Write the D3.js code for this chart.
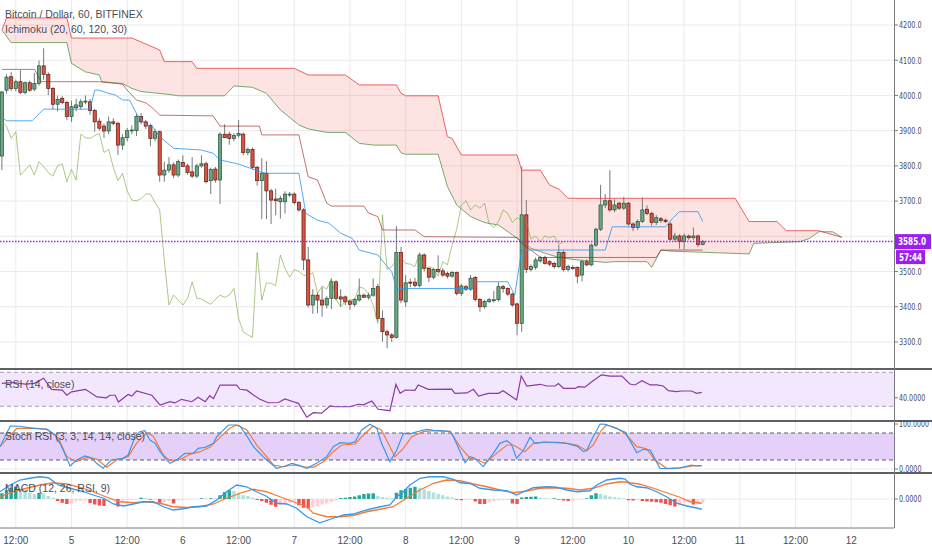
<!DOCTYPE html>
<html>
<head>
<meta charset="utf-8">
<script src="https://cdnjs.cloudflare.com/ajax/libs/d3/7.8.5/d3.min.js"></script>
<style>
    html, body { margin: 0; padding: 0; background: #fff; }
    svg { display: block; font-family: "Liberation Sans", Arial, sans-serif; }
    .scale-text { font-family: "Liberation Sans Narrow", "DejaVu Sans Condensed", "Liberation Sans", sans-serif; }
</style>
</head>
<body>
<svg id="chart" width="932" height="550"></svg>
<script>
/**
 * BTC/USD hourly candles with Ichimoku, RSI, Stoch RSI and MACD panes
 */

// first candle is 4 Dec, 09:00 - every value below is one hourly bar after that
var firstHour = 9;

var opens = [3828,
    4015, 4053, 4020, 4039, 4008, 4036, 4018, 4034, 4084, 4060,
    4020, 3975, 3992, 3980, 3940, 3965, 3968, 3982, 3982, 3957,
    3927, 3913, 3899, 3925, 3921, 3859, 3880, 3900, 3900, 3940,
    3925, 3915, 3878, 3897, 3774, 3788, 3803, 3774, 3810, 3800,
    3783, 3771, 3800, 3806, 3758, 3791, 3760, 3890, 3890, 3878,
    3887, 3890, 3838, 3847, 3796, 3758, 3779, 3729, 3706, 3698,
    3698, 3720, 3720, 3696, 3675, 3533, 3405, 3433, 3419, 3405,
    3424, 3471, 3428, 3428, 3416, 3407, 3419, 3433, 3427, 3433,
    3457, 3367, 3329, 3320, 3313, 3554, 3414, 3470, 3470, 3460,
    3547, 3509, 3484, 3506, 3502, 3495, 3487, 3497, 3438, 3457,
    3450, 3483, 3421, 3400, 3415, 3420, 3420, 3457, 3452, 3436,
    3408, 3353, 3661, 3506, 3512, 3530, 3540, 3528, 3523, 3514,
    3554, 3506, 3512, 3512, 3490, 3528, 3519, 3575, 3620, 3689,
    3701, 3675, 3694, 3680, 3694, 3635, 3625, 3642, 3677, 3665,
    3639, 3650, 3646, 3635, 3592, 3601, 3585, 3601, 3596, 3601,
    3577];
var highs = [4012,
    4060, 4067, 4045, 4072, 4040, 4042, 4064, 4099, 4134, 4066,
    4024, 4000, 3998, 3985, 3985, 3990, 3990, 4000, 3990, 3962,
    3935, 3920, 3940, 3935, 3925, 3890, 3908, 3915, 3948, 3950,
    3930, 3920, 3905, 3900, 3812, 3825, 3810, 3818, 3830, 3806,
    3825, 3806, 3830, 3812, 3795, 3797, 3895, 3918, 3897, 3893,
    3930, 3895, 3852, 3852, 3800, 3822, 3814, 3735, 3735, 3715,
    3728, 3726, 3725, 3700, 3680, 3570, 3450, 3440, 3455, 3430,
    3478, 3475, 3450, 3432, 3420, 3425, 3480, 3438, 3440, 3480,
    3465, 3390, 3335, 3325, 3629, 3570, 3490, 3480, 3482, 3552,
    3552, 3512, 3510, 3546, 3510, 3500, 3502, 3500, 3465, 3462,
    3490, 3487, 3425, 3420, 3425, 3445, 3470, 3462, 3455, 3440,
    3412, 3798, 3703, 3520, 3540, 3545, 3545, 3532, 3528, 3575,
    3560, 3520, 3518, 3515, 3532, 3535, 3580, 3625, 3746, 3720,
    3788, 3705, 3698, 3712, 3698, 3640, 3648, 3710, 3688, 3670,
    3660, 3655, 3650, 3640, 3610, 3606, 3608, 3605, 3625, 3605,
    3590];
var lows = [3788,
    4005, 4013, 4012, 4004, 4003, 4010, 4012, 4028, 4044, 4001,
    3961, 3955, 3975, 3930, 3925, 3955, 3960, 3975, 3945, 3897,
    3900, 3879, 3890, 3915, 3831, 3845, 3870, 3890, 3885, 3918,
    3905, 3856, 3870, 3755, 3755, 3780, 3765, 3768, 3800, 3775,
    3765, 3765, 3795, 3750, 3720, 3752, 3692, 3880, 3860, 3870,
    3880, 3830, 3830, 3790, 3744, 3649, 3649, 3635, 3660, 3650,
    3665, 3712, 3690, 3670, 3504, 3398, 3380, 3382, 3372, 3395,
    3393, 3418, 3400, 3405, 3391, 3400, 3415, 3425, 3420, 3428,
    3360, 3301, 3282, 3300, 3310, 3410, 3400, 3455, 3455, 3455,
    3500, 3470, 3478, 3495, 3485, 3480, 3482, 3432, 3430, 3445,
    3445, 3415, 3386, 3395, 3410, 3412, 3415, 3440, 3430, 3400,
    3320, 3329, 3496, 3500, 3505, 3525, 3520, 3515, 3508, 3510,
    3500, 3500, 3505, 3467, 3472, 3515, 3515, 3570, 3615, 3680,
    3670, 3668, 3675, 3675, 3630, 3615, 3618, 3638, 3660, 3630,
    3632, 3638, 3638, 3588, 3585, 3565, 3563, 3590, 3590, 3570,
    3574];
var closes = [4010,
    4052, 4020, 4039, 4008, 4036, 4015, 4034, 4084, 4060, 4020,
    3975, 3989, 3980, 3940, 3968, 3973, 3982, 3984, 3957, 3925,
    3907, 3899, 3925, 3921, 3859, 3880, 3900, 3902, 3940, 3925,
    3913, 3878, 3897, 3774, 3788, 3803, 3774, 3812, 3798, 3781,
    3771, 3800, 3806, 3755, 3790, 3760, 3890, 3880, 3878, 3886,
    3892, 3838, 3847, 3796, 3758, 3779, 3729, 3703, 3701, 3707,
    3720, 3720, 3696, 3675, 3533, 3405, 3433, 3419, 3405, 3424,
    3471, 3424, 3422, 3414, 3407, 3421, 3433, 3427, 3433, 3452,
    3367, 3329, 3320, 3313, 3554, 3419, 3468, 3467, 3460, 3547,
    3509, 3484, 3506, 3500, 3490, 3487, 3497, 3438, 3459, 3450,
    3481, 3421, 3400, 3415, 3420, 3420, 3457, 3452, 3436, 3405,
    3353, 3661, 3506, 3514, 3533, 3540, 3523, 3521, 3514, 3554,
    3506, 3514, 3509, 3487, 3528, 3519, 3575, 3620, 3689, 3701,
    3675, 3689, 3680, 3694, 3635, 3625, 3642, 3675, 3665, 3639,
    3653, 3645, 3642, 3592, 3601, 3585, 3601, 3596, 3601, 3577,
    3585];

// Ichimoku lines as [hour, price] turning points (cloud already shifted 30 bars forward)
var tenkan = [[9,3938],[10,3928],[15.5,3928],[18,3961],[28,3961],[29,4015],[30,4015],[32,4006],[33.5,4001],
    [35,3987],[36.5,3987],[38,3949],[40,3916],[41.5,3911],[43,3883],[46,3850],[52,3845],[54.5,3836],[56,3817],
    [60,3805],[64.5,3784],[66,3779],[73,3779],[74.5,3665],[77,3646],[79.5,3637],[82,3609],[84.5,3594],[86,3561],
    [90,3547],[92,3514],[93,3500],[94,3452],[110,3452],[111,3471],[118,3471],[119.5,3433],[121,3561],[139,3561],
    [140.5,3627],[152,3627],[153.5,3651],[155,3670],[159,3670],[160,3642]];
var kijun = [[9,4074],[16,4074],[17.5,4039],[30,4039],[35,4032],[36,4015],[38,3987],[40,3979],[41.5,3964],
    [43,3944],[54.5,3942],[56,3913],[64.5,3913],[65,3888],[73,3888],[75,3769],[77,3760],[79,3694],[80,3686],
    [87,3686],[88,3666],[90,3656],[91,3618],[98,3618],[100,3599],[120,3597],[121,3580],[123,3561],[125,3540],
    [150,3540],[151,3561],[160,3561]];
var spanA = [[9,4186],[11,4150],[23,4150],[24,4091],[27,4067],[30,4058],[30.5,4039],[35,4034],[37,4020],
    [39,4011],[45,4003],[47,3999],[57,3999],[59,4027],[63,4023],[66,4006],[69,3959],[73,3916],[75,3905],
    [79,3895],[83,3895],[84,3885],[86,3864],[89,3859],[94,3859],[95,3837],[96,3833],[103,3833],[105,3741],
    [107,3689],[110,3656],[113,3639],[116,3632],[119,3604],[121,3585],[123,3566],[126,3552],[129,3540],
    [133,3533],[139,3526],[141,3528],[148,3528],[149,3512],[151,3561],[153,3558],[170,3550],[171,3580],
    [181,3585],[183,3594],[185,3613],[188,3613],[190,3597]];
var spanB = [[9,4186],[10,4220],[23,4220],[24,4163],[37,4163],[43,4129],[44,4096],[50,4096],[51,4077],
    [72,4077],[75,4058],[83,4058],[84,4049],[86,4030],[94,4030],[95,4006],[96,3999],[103,3999],[105,3883],
    [106,3878],[108,3831],[120,3831],[121,3788],[125,3788],[127,3746],[129,3734],[131,3708],[167,3708],
    [170,3642],[176,3642],[178,3616],[185,3616],[190,3597]];
var laggingShift = 30;

// RSI (14, close)
var rsi = [[9,57],[11.5,58],[14,56],[16,57],[18,63],[19.7,50],[22,49],[23,43],[24,47],[27,50],[29.5,41],
    [31.5,40],[32.3,43],[33.4,43],[34.1,35],[36.2,44],[37,42],[38,48],[41.3,43],[43.1,31.5],[45.2,35.4],
    [46.3,34],[47.7,38.2],[49.9,35.4],[51.3,40.6],[52.8,35.4],[53.8,42.5],[54.6,39],[56,55],[59.6,55],
    [60.3,50],[61.8,49],[63.2,43.3],[64.6,38.2],[66.4,34.2],[68.6,34.5],[70,38.6],[71.8,35.4],[72.9,33.5],
    [73.6,27],[74.7,17.1],[76.1,22.5],[77.9,22],[79.7,30.4],[80.8,29.5],[84,29.5],[85.8,32.4],[86.9,31.8],
    [88.7,36.2],[90.1,26.5],[92.6,24.8],[93.9,55.9],[94.8,45.3],[95.9,49.2],[98,48.8],[98.7,55.1],[100.9,50],
    [105.9,50.2],[106.6,45.3],[109.2,45.7],[110.6,50],[111.7,42.1],[113.8,45.3],[116,45.3],[117,48.4],
    [119.9,37.4],[120.9,65.6],[122.1,53.9],[125,55.9],[126.4,53.9],[128.2,53.9],[128.9,56.7],[130,51.2],
    [132.5,51],[133.2,53.1],[134.6,52.5],[136.1,58.9],[138.2,67],[140,65.6],[142.6,65.6],[144.3,56.2],
    [145.4,55.1],[146.9,60.1],[148.7,55.1],[150.1,55.3],[151.5,53.9],[152.6,48.4],[154.3,47.2],[155.5,48],
    [157.6,48],[158.7,45.3],[159.8,46.4]];

// Stoch RSI (3, 3, 14, 14, close)
var stochK = [[8.6,49.6],[10.8,95.6],[12.9,95],[15.8,90.4],[18.7,88],[20.5,75.6],[21.9,49.6],[23.7,6.7],
    [25.1,20],[26.9,28.9],[28.3,25],[29.4,12.6],[30.8,1.5],[32.6,20],[35.1,23.7],[36.2,31],[37.7,71.8],
    [38.7,82.9],[39.8,85.2],[40.9,64.4],[42,57.1],[43.1,38.5],[44.2,23.7],[45.2,12.6],[46.7,20],[48.4,34.8],
    [50.2,34.8],[51.3,46],[52.8,48],[54.6,57],[55.3,71.8],[56.4,83],[57.8,97.8],[59.2,97.8],[60.3,95.6],
    [62.1,68.1],[63.2,49.6],[65.3,27.4],[66.1,20],[68.2,1.5],[70,6.7],[71.5,12.6],[73.2,7.5],[74.7,1.5],
    [76.8,12.6],[79,27.4],[80.4,49.6],[81.9,58.5],[84,57],[85.1,60.7],[86.5,86.7],[88.3,99.3],[89.8,90],
    [90.8,57],[92.6,16.3],[94.1,42.2],[95.5,79.3],[96.9,78],[98.4,82.9],[100.5,88.1],[102,86],[105.6,84],
    [106.3,71.8],[108.8,14],[109.9,27.4],[110.9,24],[112.7,5.2],[114.9,34.8],[116.3,57],[117.8,62.9],
    [118.8,55],[119.9,23.7],[121.4,42],[122.8,70.4],[123.9,57],[125.7,60],[129.3,58],[130.7,57],[132.9,51],
    [134.3,38.5],[135,41],[136.4,71.8],[137.9,100],[139,99],[140.4,94],[142.2,86.7],[143.3,82],[145.8,36.3],
    [147.2,43.7],[148.7,42],[150.8,1.5],[153,0.5],[155.1,2.5],[157.6,8.9],[158.7,6.7],[159.8,7.5]];
var stochD = [[8.6,49.6],[12.2,90.4],[15.8,91],[18.7,89],[21.2,68],[23,27.4],[25.1,16.3],[27.3,25.9],
    [29.4,22],[31.6,3.7],[33.7,20],[36.2,27.4],[38,57],[40.2,80.7],[41.6,73],[43.8,31.1],[45.2,18.5],
    [47.4,21],[49.5,32.6],[51.7,38.5],[53.8,48.1],[56,70.4],[58.1,90.4],[59.6,97.8],[61.8,86.7],[63.9,53.3],
    [66.1,27],[67.5,8.9],[69.7,5],[71.8,8.9],[73.9,5],[76.1,3.7],[78.3,16.3],[80.4,38.5],[82.2,53.3],
    [85.1,55.6],[86.9,75.6],[89,95.6],[90.8,86],[93.7,27.4],[95.5,46],[97.3,71.8],[99.8,82.9],[102,85.2],
    [105.6,83],[107.7,49.6],[109.9,23.7],[111.3,21],[113.1,12.6],[115.6,34.8],[117.8,53.3],[119.2,53.3],
    [121.7,38.5],[123.5,57],[125.7,59],[129.3,59],[132.9,53.3],[135,40.7],[136.4,53.3],[138.2,86.7],
    [139.3,97.8],[141.5,91],[143.6,75.6],[145.8,49.6],[147.9,45],[149.7,20],[152.2,1.5],[155.1,2.5],
    [158,6.7],[159.8,7.5]];

// MACD (12, 26, RSI, 9)
var macd = [[8.6,2.9],[10.8,5.6],[12.9,7.6],[15,8.3],[17.2,8.9],[19,8.5],[21.2,5.6],[23.7,4.3],[26.6,2.9],
    [28.7,1.6],[30.9,0.3],[33,-2],[35.2,-2.8],[37.3,-2],[39.5,-1.1],[41.6,-1.1],[43.8,-3.1],[45.9,-4.4],
    [48.1,-3.9],[50.3,-3.1],[53.1,-2.8],[55.3,-0.4],[57.4,2.9],[59.6,5.6],[61.7,4.9],[63.9,2.9],[66,1.1],
    [68.2,-1.7],[70.4,-2],[72.5,-3.7],[74.7,-7.1],[77.5,-9.5],[80.4,-7.7],[82.6,-6.4],[84.7,-6],[87.6,-4.4],
    [90.5,-3.1],[92.6,-2.4],[94.1,0.9],[95.5,2.9],[96.9,5.6],[99.1,8.3],[101.2,8.9],[104.1,8.9],[106.3,7.9],
    [107.7,6.5],[109.9,6.2],[112,4.3],[114.9,3.6],[117.8,3.3],[119.9,1.6],[121.4,2.9],[123.5,4.5],[126.4,4.9],
    [128.5,4.7],[130.7,3.6],[132.9,2.9],[135.7,3.3],[137.2,5.6],[139.3,7.6],[142.2,8.3],[143.3,8],[144.3,6],
    [145.8,4.9],[147.9,4.5],[150.1,2.9],[152.2,0.9],[154.4,-1.7],[156.6,-2.8],[158.7,-3.6],[159.8,-4.1]];
var signal = [[8.6,0.9],[11.5,2.9],[14.3,4.3],[17.2,5.6],[20.1,6.5],[23,6],[25.8,4.7],[28.7,2.9],[31.6,0.7],
    [34.5,-1.1],[37.3,-1.5],[40.2,-1.1],[43.1,-1.7],[45.9,-3.1],[48.8,-3.4],[51.7,-3.1],[54.6,-2],[57.4,0.3],
    [60.3,2.3],[63.2,3.9],[66,2.9],[68.9,0.9],[71.8,-1.1],[74.7,-3.1],[76.1,-5.7],[79,-7.1],[81.9,-7.1],
    [84.7,-6.6],[87.6,-5.1],[90.5,-4.1],[93.3,-3.1],[96.2,0.3],[99.1,3.6],[102,6.3],[104.8,7.6],[107.7,7.3],
    [110.6,6],[113.5,4.9],[116.3,3.6],[119.2,2.5],[122.1,3.2],[124.9,4.3],[127.8,4.5],[130.7,4.3],[133.6,3.6],
    [136.4,4.3],[139.3,6],[142.2,6.9],[143.6,6.7],[146.5,5.9],[149.4,4.3],[152.2,2.5],[155.1,0.7],[157.3,-1.1],
    [159.8,-1.7]];
// histogram, one value per bar from firstHour
var histogram = [2.3,
    3.5, 4.5, 5, 4.2, 3.5, 2.5, 2, 2.5, 2.2, 1.2,
    0.5, -0.8, -1.5, -2, -1.8, -0.9, -0.8, -0.6, -1.6, -2.2,
    -2.6, -2.8, -0.8, -0.5, -3, -0.8, -0.5, -0.3, -0.2, 0.5,
    0.4, -0.3, -0.2, -1.5, -1.2, -0.8, -1.8, -0.5, -0.4, -0.3,
    -0.2, -0.1, 0.3, 0.2, 0.3, 0.2, 1.5, 2.8, 3.5, 3.2,
    2.5, 1.5, 1.2, 0.6, -0.4, -0.8, -1.5, -2.3, -3.1, -2.5,
    -1.8, -1.5, -1, -2.5, -3.5, -3.8, -3.3, -2.9, -2.2, -1.8,
    -1.2, -0.6, 0.4, 0.5, 0.8, 1, 1.5, 2, 2.2, 2.3,
    1.2, 0.8, 0.5, 0.3, 2.5, 3.5, 4, 4.5, 4.9, 4.5,
    3.8, 3.2, 2.6, 2, 1.5, 1, 0.6, -0.3, -0.5, -0.4,
    -0.3, -1, -2, -2, -1.2, -0.8, -0.6, -0.5, -0.4, -1.8,
    -2, 0.6, 0.8, 0.9, 1, 0.5, 0.4, 0.2, 0.3, -0.3,
    -0.6, -0.8, -0.6, -0.3, -0.2, 0.3, 1.5, 2.3, 2, 1.5,
    1, 0.7, 0.5, 0.2, -0.5, -0.6, -0.4, -0.8, -1, -1.1,
    -1.3, -1.5, -2, -2.5, -3, -2.5, -1.5, -1, -2.2, -2,
    -1.5];

// axis ticks
var priceTicks = [3300, 3400, 3500, 3600, 3700, 3800, 3900, 4000, 4100, 4200];
var timeTicks = [12, 24, 36, 48, 60, 72, 84, 96, 108, 120, 132, 144, 156, 168, 180, 192];
var timeLabels = ["12:00", "5", "12:00", "6", "12:00", "7", "12:00", "8", "12:00", "9",
    "12:00", "10", "12:00", "11", "12:00", "12"];
var lastPrice = 3585;
var countdown = "57:44";

(function(){

    /**
     * Right edge of the plot, the price scale sits right of it
     */
    var plotRight = 894;
    /**
     * The four panes, top to bottom
     */
    var panes = {
        main:  {top: 0,   bottom: 369},
        rsi:   {top: 369, bottom: 421},
        stoch: {top: 421, bottom: 473},
        macd:  {top: 473, bottom: 528}
    };
    var textColor = '#4a4d57';
    var svg = d3.select('#chart');

    //scales
    var x = d3.scaleLinear().domain([8.594, 201.22]).range([0, plotRight]);
    var yPrice = d3.scaleLinear().domain([3223.3, 4271]).range([panes.main.bottom, panes.main.top]);
    var yRsi = d3.scaleLinear().domain([12.7, 73.9]).range([panes.rsi.bottom, panes.rsi.top]);
    var yStoch = d3.scaleLinear().domain([-8.9, 106.7]).range([panes.stoch.bottom, panes.stoch.top]);
    var yMacd = d3.scaleLinear().domain([-11.6, 10.4]).range([panes.macd.bottom, panes.macd.top]);

    var hourOf = function(i){ return firstHour + i; };

    /**
     * Returns a line generator for [hour, value] pairs on the given y scale
     */
    var lineFor = function(y){
        return d3.line().x(function(d){ return x(d[0]); }).y(function(d){ return y(d[1]); });
    };

    //one clip per pane
    var defs = svg.append('defs');
    Object.keys(panes).forEach(function(k){
        defs.append('clipPath').attr('id', 'clip-' + k)
            .append('rect')
            .attr('x', 0).attr('y', panes[k].top)
            .attr('width', plotRight).attr('height', panes[k].bottom - panes[k].top);
    });

    //grid
    var grid = svg.append('g').attr('stroke', '#ebebee').attr('stroke-width', 1);
    grid.selectAll('line.v').data(timeTicks).enter().append('line')
        .attr('x1', function(d){ return x(d); }).attr('x2', function(d){ return x(d); })
        .attr('y1', 0).attr('y2', panes.macd.bottom);
    grid.selectAll('line.h').data(priceTicks).enter().append('line')
        .attr('x1', 0).attr('x2', plotRight)
        .attr('y1', function(d){ return yPrice(d); }).attr('y2', function(d){ return yPrice(d); });
    [[yRsi, 40], [yStoch, 0], [yMacd, 0]].forEach(function(g){
        grid.append('line').attr('x1', 0).attr('x2', plotRight)
            .attr('y1', g[0](g[1])).attr('y2', g[0](g[1]));
    });

    // ---------- main pane ----------
    var main = svg.append('g').attr('clip-path', 'url(#clip-main)');

    //kumo cloud between the two leading spans
    main.append('path')
        .attr('d', lineFor(yPrice)(spanB.concat(spanA.slice().reverse())) + 'Z')
        .attr('fill', '#f44336').attr('fill-opacity', 0.15);

    //candles
    var candles = main.append('g').selectAll('g')
        .data(closes.map(function(c, i){
            return {t: hourOf(i), o: opens[i], h: highs[i], l: lows[i], c: c};
        }))
        .enter().append('g');
    candles.append('line')
        .attr('x1', function(d){ return x(d.t); }).attr('x2', function(d){ return x(d.t); })
        .attr('y1', function(d){ return yPrice(d.h); }).attr('y2', function(d){ return yPrice(d.l); })
        .attr('stroke', '#77787c').attr('stroke-width', 1);
    candles.append('rect')
        .attr('x', function(d){ return x(d.t) - 1.6; })
        .attr('y', function(d){ return yPrice(Math.max(d.o, d.c)); })
        .attr('width', 3.2)
        .attr('height', function(d){ return Math.max(1, Math.abs(yPrice(d.o) - yPrice(d.c))); })
        .attr('fill', function(d){ return d.c >= d.o ? '#6ba583' : '#d75442'; })
        .attr('stroke', function(d){ return d.c >= d.o ? '#225437' : '#5b1a13'; })
        .attr('stroke-width', 0.7);

    //ichimoku lines
    var lagging = closes.map(function(c, i){ return [hourOf(i) - laggingShift, c]; });
    [
        {data: spanB,   color: '#e8494a', op: 0.85},
        {data: spanA,   color: '#3d8a36', op: 0.7},
        {data: lagging, color: '#6a9a2a', op: 0.55},
        {data: kijun,   color: '#991515', op: 0.6},
        {data: tenkan,  color: '#2a95ec', op: 0.8}
    ].forEach(function(s){
        main.append('path').attr('d', lineFor(yPrice)(s.data))
            .attr('fill', 'none').attr('stroke', s.color)
            .attr('stroke-opacity', s.op).attr('stroke-width', 1);
    });

    //last price line
    main.append('line')
        .attr('x1', 0).attr('x2', plotRight)
        .attr('y1', yPrice(lastPrice)).attr('y2', yPrice(lastPrice))
        .attr('stroke', '#9c27f0').attr('stroke-width', 1.5).attr('stroke-dasharray', '1.5,1.5');

    //legend
    var legend = svg.append('g').attr('font-size', 10.5).attr('fill', textColor);
    legend.append('text').attr('x', 5).attr('y', 18).text('Bitcoin / Dollar, 60, BITFINEX');
    legend.append('text').attr('x', 5).attr('y', 33).text('Ichimoku (20, 60, 120, 30)');

    // ---------- RSI pane ----------
    var rsiG = svg.append('g').attr('clip-path', 'url(#clip-rsi)');
    rsiG.append('rect').attr('x', 0).attr('width', plotRight)
        .attr('y', yRsi(70)).attr('height', yRsi(30) - yRsi(70))
        .attr('fill', '#f3e7fd');
    [70, 30].forEach(function(v){
        rsiG.append('line').attr('x1', 0).attr('x2', plotRight)
            .attr('y1', yRsi(v)).attr('y2', yRsi(v))
            .attr('stroke', '#a89cb2').attr('stroke-dasharray', '4,3');
    });
    rsiG.append('path').attr('d', lineFor(yRsi)(rsi))
        .attr('fill', 'none').attr('stroke', '#8a3aa6').attr('stroke-width', 1.2);

    // ---------- Stoch RSI pane ----------
    var stG = svg.append('g').attr('clip-path', 'url(#clip-stoch)');
    stG.append('rect').attr('x', 0).attr('width', plotRight)
        .attr('y', yStoch(80)).attr('height', yStoch(20) - yStoch(80))
        .attr('fill', '#e5d0fa');
    [80, 20].forEach(function(v){
        stG.append('line').attr('x1', 0).attr('x2', plotRight)
            .attr('y1', yStoch(v)).attr('y2', yStoch(v))
            .attr('stroke', '#5e5a6a').attr('stroke-dasharray', '4,3');
    });
    stG.append('path').attr('d', lineFor(yStoch)(stochD))
        .attr('fill', 'none').attr('stroke', '#f57a35').attr('stroke-width', 1.2);
    stG.append('path').attr('d', lineFor(yStoch)(stochK))
        .attr('fill', 'none').attr('stroke', '#3a98e8').attr('stroke-width', 1.2);

    // ---------- MACD pane ----------
    var mG = svg.append('g').attr('clip-path', 'url(#clip-macd)');
    mG.selectAll('rect').data(histogram).enter().append('rect')
        .attr('x', function(d, i){ return x(hourOf(i)) - 1.7; })
        .attr('width', 3.4)
        .attr('y', function(d){ return Math.min(yMacd(d), yMacd(0)); })
        .attr('height', function(d){ return Math.abs(yMacd(d) - yMacd(0)); })
        .attr('fill', function(d, i){
            var prev = i > 0 ? histogram[i - 1] : d;
            if(d >= 0) return d >= prev ? '#26a69a' : '#b2dfdb';
            return d <= prev ? '#ef5350' : '#ffcdd2';
        });
    mG.append('path').attr('d', lineFor(yMacd)(signal))
        .attr('fill', 'none').attr('stroke', '#f57a35').attr('stroke-width', 1.3);
    mG.append('path').attr('d', lineFor(yMacd)(macd))
        .attr('fill', 'none').attr('stroke', '#3a98e8').attr('stroke-width', 1.3);

    //pane titles
    var titles = svg.append('g').attr('font-size', 10.5).attr('fill', textColor);
    titles.append('text').attr('x', 5).attr('y', 388).text('RSI (14, close)');
    titles.append('text').attr('x', 5).attr('y', 440).text('Stoch RSI (3, 3, 14, 14, close)');
    titles.append('text').attr('x', 5).attr('y', 492).text('MACD (12, 26, RSI, 9)');

    // ---------- frame ----------
    [panes.rsi.top, panes.stoch.top, panes.macd.top].forEach(function(v){
        svg.append('line').attr('x1', 0).attr('x2', 932).attr('y1', v).attr('y2', v)
            .attr('stroke', '#5f6066').attr('stroke-width', 2);
    });
    svg.append('line').attr('x1', 0).attr('x2', plotRight)
        .attr('y1', panes.macd.bottom).attr('y2', panes.macd.bottom)
        .attr('stroke', '#7a7b80').attr('stroke-width', 1);
    svg.append('line').attr('x1', plotRight + 0.5).attr('x2', plotRight + 0.5)
        .attr('y1', 0).attr('y2', panes.macd.bottom)
        .attr('stroke', '#7a7b80').attr('stroke-width', 1);

    //price scale - labels under the last price tag are hidden, like on the reference
    var tagY = yPrice(lastPrice);
    var axisG = svg.append('g').attr('class', 'scale-text').attr('font-size', 9.5).attr('fill', textColor);
    var scaleLabels = priceTicks
        .filter(function(p){ return Math.abs(yPrice(p) - tagY) > 12; })
        .map(function(p){ return {y: yPrice(p), text: d3.format('.1f')(p)}; })
        .concat([
            {y: yRsi(40), text: '40.0000'},
            {y: yStoch(100), text: '100.0000'},
            {y: yStoch(0), text: '0.0000'},
            {y: yMacd(0), text: '0.0000'}
        ]);
    axisG.selectAll('line').data(scaleLabels).enter().append('line')
        .attr('x1', plotRight).attr('x2', plotRight + 4)
        .attr('y1', function(d){ return d.y; }).attr('y2', function(d){ return d.y; })
        .attr('stroke', '#7a7b80');
    axisG.selectAll('text').data(scaleLabels).enter().append('text')
        .attr('x', plotRight + 5).attr('y', function(d){ return d.y; }).attr('dy', '0.35em')
        .attr('textLength', function(d){ return d.text.length * 3.75; })
        .attr('lengthAdjust', 'spacingAndGlyphs')
        .text(function(d){ return d.text; });

    //last price tag and countdown
    svg.append('rect').attr('x', plotRight + 1).attr('y', tagY - 7.5).attr('width', 36).attr('height', 15)
        .attr('fill', '#9c1ff0');
    svg.append('text').attr('class', 'scale-text').attr('x', plotRight + 4).attr('y', tagY).attr('dy', '0.35em')
        .attr('font-size', 10).attr('font-weight', 'bold').attr('fill', '#fff')
        .attr('textLength', 28).attr('lengthAdjust', 'spacingAndGlyphs')
        .text(d3.format('.1f')(lastPrice));
    svg.append('rect').attr('x', plotRight + 2).attr('y', tagY + 8.5).attr('width', 29).attr('height', 14)
        .attr('fill', '#9c1ff0');
    svg.append('text').attr('class', 'scale-text').attr('x', plotRight + 5).attr('y', tagY + 15.5).attr('dy', '0.35em')
        .attr('font-size', 10).attr('font-weight', 'bold').attr('fill', '#fff')
        .attr('textLength', 23).attr('lengthAdjust', 'spacingAndGlyphs')
        .text(countdown);

    //time scale
    svg.append('g').attr('font-size', 10).attr('fill', textColor).attr('text-anchor', 'middle')
        .selectAll('text').data(timeTicks).enter().append('text')
        .attr('x', function(d){ return x(d); }).attr('y', 544)
        .text(function(d, i){ return timeLabels[i]; });

})();
</script>
</body>
</html>
